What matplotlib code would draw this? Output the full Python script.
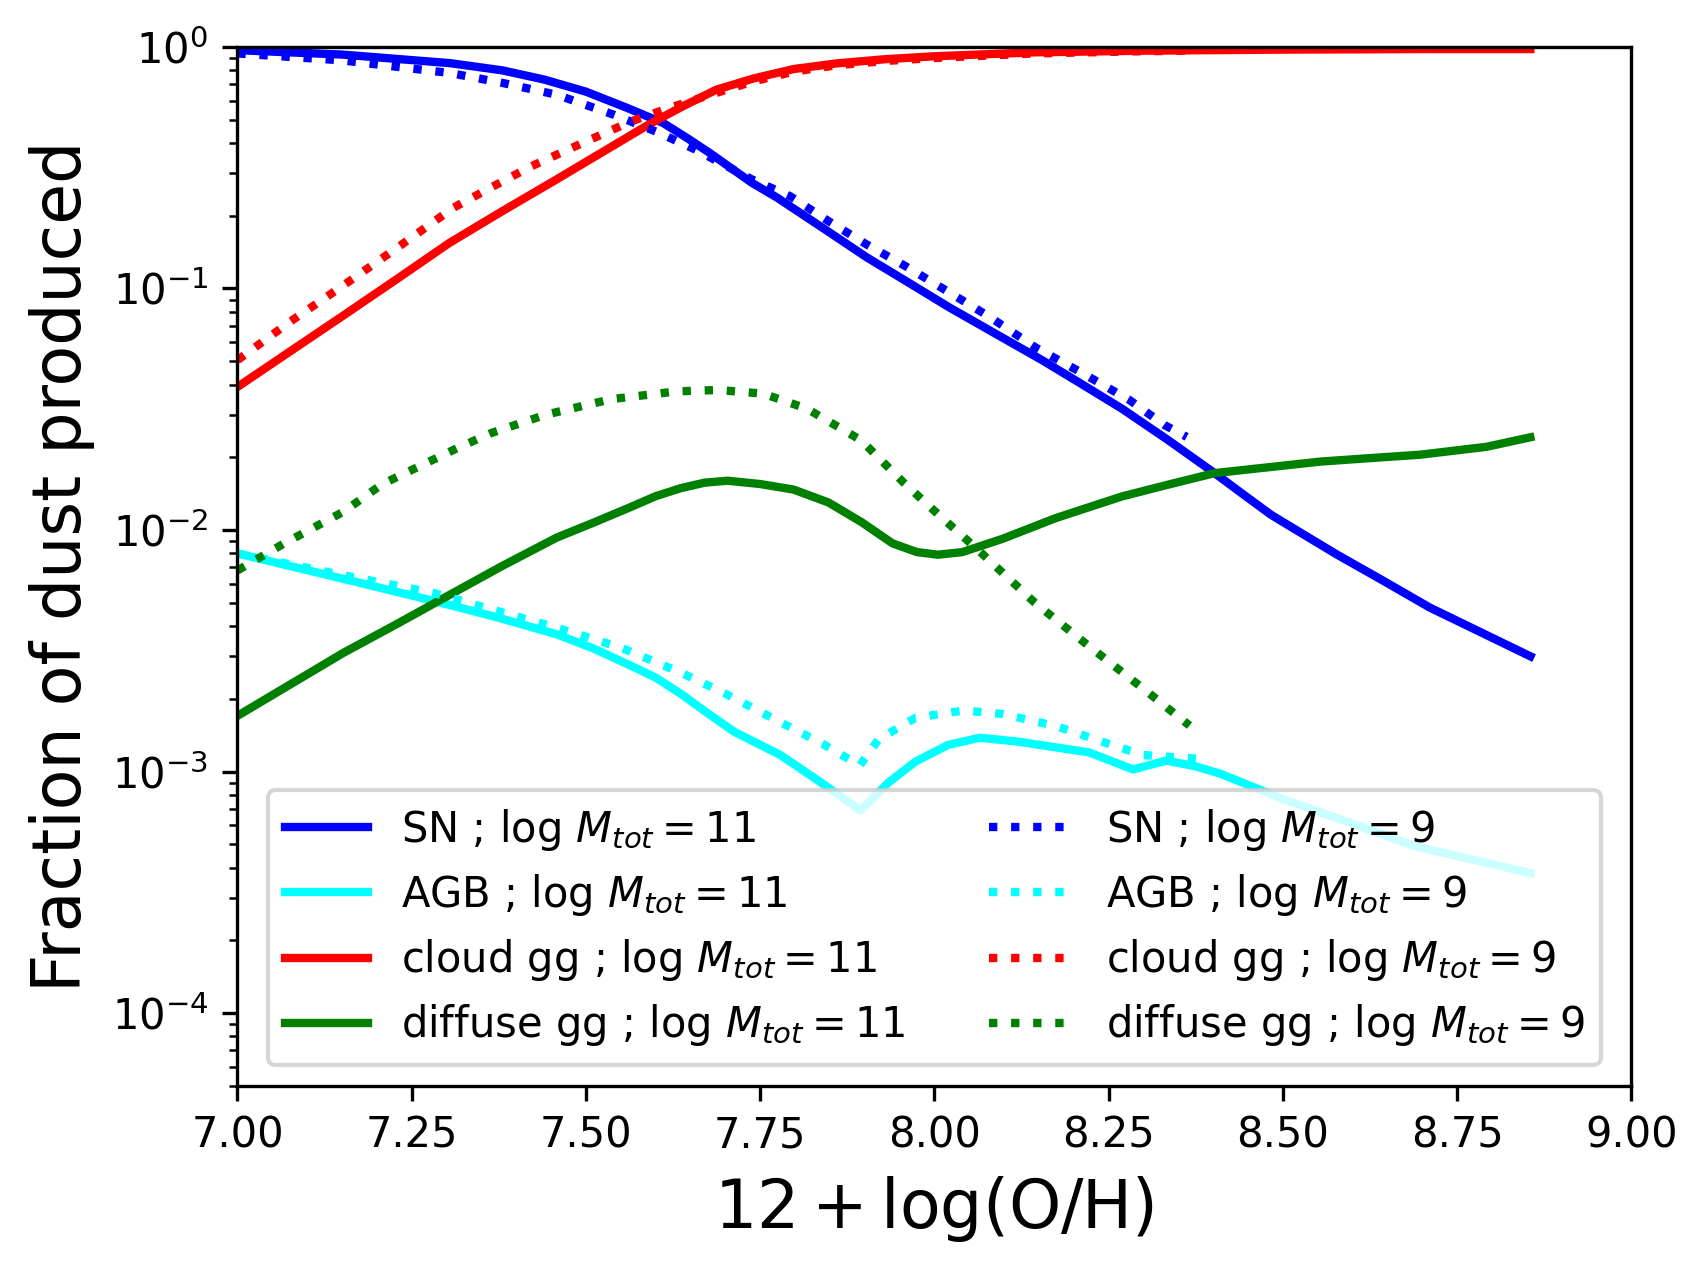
import matplotlib
matplotlib.use("Agg")
import matplotlib.pyplot as plt

# ---- data ----
sn11_x = [7.00, 7.15, 7.305, 7.38, 7.44, 7.50, 7.56, 7.611, 7.645, 7.677, 7.738, 7.774, 7.84,
          7.903, 7.96, 8.021, 8.09, 8.155, 8.21, 8.269, 8.335, 8.402, 8.44, 8.483, 8.53, 8.578,
          8.645, 8.711, 8.78, 8.855]
sn11_y = [0.97, 0.93, 0.857, 0.80, 0.733, 0.653, 0.558, 0.484, 0.42, 0.365, 0.274, 0.238, 0.178,
          0.1345, 0.107, 0.0836, 0.0644, 0.0504, 0.0404, 0.0318, 0.0236, 0.0172, 0.01426, 0.01156,
          0.00957, 0.0079, 0.00614, 0.00477, 0.00382, 0.0030]

sn9_x = [7.00, 7.15, 7.305, 7.38, 7.458, 7.54, 7.60, 7.657, 7.738, 7.793, 7.848, 7.903, 7.96,
         8.012, 8.08, 8.145, 8.21, 8.28, 8.33, 8.362]
sn9_y = [0.94, 0.88, 0.78, 0.71, 0.634, 0.524, 0.447, 0.376, 0.283, 0.241, 0.19, 0.152, 0.123,
         0.100, 0.076, 0.057, 0.045, 0.0345, 0.0272, 0.0243]

cloud11_x = [7.00, 7.076, 7.152, 7.23, 7.305, 7.38, 7.458, 7.525, 7.59, 7.64, 7.687, 7.74,
             7.798, 7.86, 7.93, 8.00, 8.144, 8.30, 8.50, 8.70, 8.855]
cloud11_y = [0.0391, 0.055, 0.0773, 0.110, 0.155, 0.209, 0.283, 0.369, 0.477, 0.57, 0.665, 0.74,
             0.81, 0.855, 0.89, 0.915, 0.95, 0.965, 0.975, 0.98, 0.98]

cloud9_x = [7.00, 7.076, 7.152, 7.23, 7.31, 7.365, 7.422, 7.495, 7.565, 7.62, 7.687, 7.74,
            7.798, 7.86, 7.93, 8.00, 8.144, 8.30, 8.368]
cloud9_y = [0.0505, 0.073, 0.103, 0.148, 0.216, 0.263, 0.321, 0.40, 0.492, 0.56, 0.645, 0.72,
            0.79, 0.84, 0.875, 0.90, 0.94, 0.96, 0.965]

diff11_x = [7.00, 7.152, 7.23, 7.305, 7.38, 7.458, 7.51, 7.56, 7.60, 7.636, 7.67, 7.703, 7.75,
            7.798, 7.848, 7.895, 7.94, 7.975, 8.005, 8.04, 8.098, 8.174, 8.269, 8.335, 8.402,
            8.48, 8.554, 8.62, 8.697, 8.792, 8.855]
diff11_y = [0.0017, 0.0031, 0.0041, 0.0054, 0.0071, 0.0093, 0.0107, 0.0123, 0.0138, 0.0149,
            0.0157, 0.0160, 0.0155, 0.0147, 0.013, 0.0108, 0.0088, 0.0081, 0.0079, 0.0081,
            0.0092, 0.0112, 0.01377, 0.0154, 0.0172, 0.0182, 0.0192, 0.0198, 0.0205, 0.0221,
            0.0242]

diff9_x = [7.00, 7.067, 7.152, 7.208, 7.315, 7.364, 7.442, 7.536, 7.63, 7.69, 7.754, 7.817,
           7.895, 7.957, 8.00, 8.066, 8.144, 8.222, 8.30, 8.366]
diff9_y = [0.0068, 0.0088, 0.0119, 0.0155, 0.0218, 0.0252, 0.030, 0.0348, 0.0375, 0.038,
           0.0367, 0.0318, 0.0235, 0.0156, 0.012, 0.0081, 0.0050, 0.0033, 0.0022, 0.00155]

agb11_x = [7.00, 7.14, 7.28, 7.37, 7.458, 7.51, 7.56, 7.60, 7.636, 7.675, 7.713, 7.779, 7.84,
           7.894, 7.934, 7.973, 8.02, 8.065, 8.12, 8.222, 8.285, 8.333, 8.375, 8.41, 8.50,
           8.613, 8.69, 8.855]
agb11_y = [0.0080, 0.0064, 0.0051, 0.00437, 0.0037, 0.00324, 0.00278, 0.00245, 0.0021, 0.00174,
           0.00146, 0.00117, 0.00089, 0.00069, 0.0009, 0.0011, 0.00129, 0.00138, 0.00133, 0.0012,
           0.00102, 0.00111, 0.00105, 0.00098, 0.00077, 0.00059, 0.00049, 0.00038]

agb9_x = [7.00, 7.14, 7.28, 7.458, 7.55, 7.636, 7.70, 7.779, 7.84, 7.893, 7.92, 7.973, 8.042,
          8.098, 8.175, 8.254, 8.30, 8.377]
agb9_y = [0.0080, 0.0066, 0.0055, 0.00394, 0.00326, 0.00257, 0.0021, 0.0016, 0.0013, 0.00106,
          0.00136, 0.00167, 0.00179, 0.00173, 0.00154, 0.00129, 0.00117, 0.00113]

labels11 = [r'SN ; log $M_{tot} = 11$', r'AGB ; log $M_{tot} = 11$',
            r'cloud gg ; log $M_{tot} = 11$', r'diffuse gg ; log $M_{tot} = 11$']
labels9 = [r'SN ; log $M_{tot} = 9$', r'AGB ; log $M_{tot} = 9$',
           r'cloud gg ; log $M_{tot} = 9$', r'diffuse gg ; log $M_{tot} = 9$']
colors = ['blue', 'cyan', 'red', 'green']

fig = plt.figure(figsize=(1707 / 300, 1269 / 300), dpi=300)
ax = fig.add_axes([0.1391, 0.1444, 0.9557 - 0.1391, 0.963 - 0.1444])

solid = [(sn11_x, sn11_y), (agb11_x, agb11_y), (cloud11_x, cloud11_y), (diff11_x, diff11_y)]
dotted = [(sn9_x, sn9_y), (agb9_x, agb9_y), (cloud9_x, cloud9_y), (diff9_x, diff9_y)]

for (x, y), c, lab in zip(solid, colors, labels11):
    ax.plot(x, y, color=c, lw=2, ls='-', label=lab)
for (x, y), c, lab in zip(dotted, colors, labels9):
    ax.plot(x, y, color=c, lw=2, ls=':', label=lab)

ax.set_yscale('log')
ax.set_xlim(7.0, 9.0)
ax.set_ylim(5e-5, 1.0)
ax.set_xlabel(r'$12 + \log(\rm O/H)$', fontsize=16)
ax.set_ylabel('Fraction of dust produced', fontsize=16)
ax.legend(loc='lower center', ncol=2, fontsize=10, labelspacing=0.46)

fig.savefig('out.png', dpi=300)
